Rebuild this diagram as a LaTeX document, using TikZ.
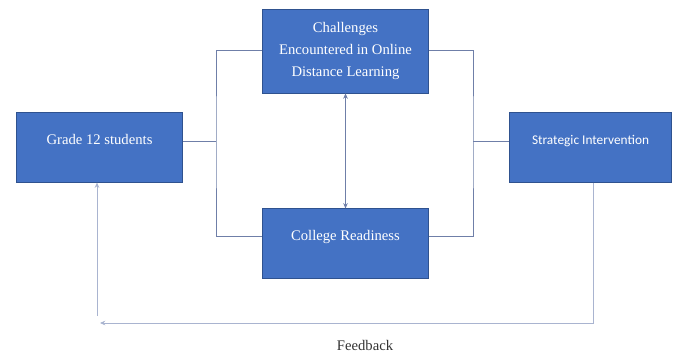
\documentclass[tikz,border=0pt]{standalone}
\usepackage{fontspec}
\setmainfont{Liberation Serif}
\newfontfamily\calib{Carlito}
\usetikzlibrary{arrows.meta}
\definecolor{boxfill}{HTML}{4472C4}
\definecolor{boxline}{HTML}{2F528F}
\definecolor{conn}{HTML}{6F7FA8}
\definecolor{fbline}{HTML}{A9B4D0}
\begin{document}
\begin{tikzpicture}[x=0.75pt,y=-0.75pt,
  blockbox/.style={draw=boxline,fill=boxfill,line width=0.6pt,text=white,align=center,
    font=\fontsize{11}{16.5}\selectfont,inner sep=0pt},
  upper/.style={text height=7.5pt,text depth=11.5pt},
  link/.style={draw=conn,line width=0.7pt},
  fb/.style={draw=fbline,line width=0.6pt},
  tip/.style={-{Stealth[length=4pt,width=3.5pt]}}]
\useasboundingbox (0,0) rectangle (677,354);
\node[blockbox,minimum width=124pt,minimum height=63pt] (top) at (345.5,51) {Challenges\\Encountered in Online\\Distance Learning};
\node[blockbox,upper,minimum width=124pt,minimum height=52pt] (grade) at (99.5,147.5) {Grade 12 students};
\node[blockbox,upper,minimum width=122pt,minimum height=52pt,font=\calib\fontsize{10}{12}\selectfont] (strat) at (590.5,147.5) {Strategic Intervention};
\node[blockbox,upper,minimum width=124pt,minimum height=52pt] (college) at (345.5,243.5) {College Readiness};
\coordinate (lj) at (216,141);
\coordinate (rj) at (473,141);
\coordinate (fbr) at (593,323);
\coordinate (fbl) at (100,323);
\coordinate (fbv) at (97,316);
\draw[link] (grade.east |- lj) -- (lj);
\draw[link] (top.west |- 0,50) -| (lj) |- (college.west |- 0,236);
\draw[link] (top.east |- 0,50) -| (rj) |- (college.east |- 0,236);
\draw[link] (rj) -- (strat.west |- rj);
\draw[link,{Stealth[length=4pt,width=3.5pt]}-{Stealth[length=4pt,width=3.5pt]}] (top.south) -- (college.north);
\draw[fb,tip] (strat.south -| fbr) |- (fbl);
\draw[fb,tip] (fbv) -- (grade.south -| fbv);
\node[font=\fontsize{11}{13}\selectfont,text=black!80] (fbtext) at (365,345) {Feedback};
\end{tikzpicture}
\end{document}
